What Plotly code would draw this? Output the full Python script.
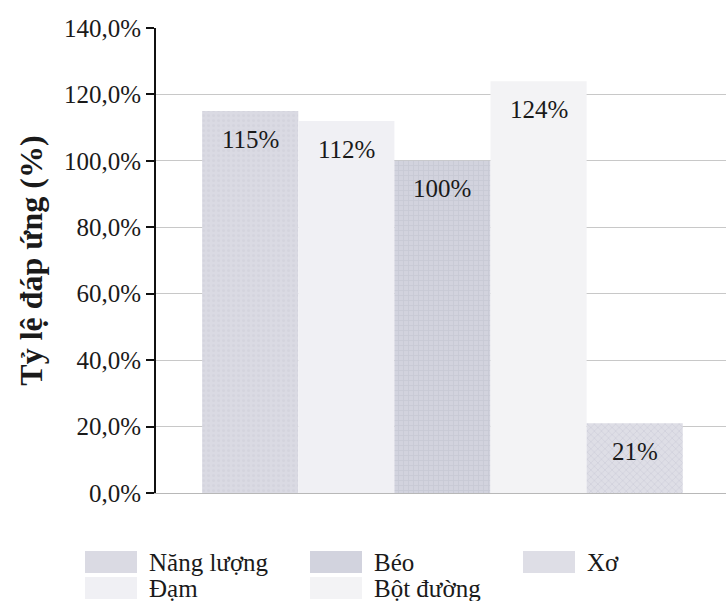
import plotly.graph_objects as go

# ---- data ----
series_names = ["Năng lượng", "Đạm", "Béo", "Bột đường", "Xơ"]
series_values = [1.15, 1.12, 1.00, 1.24, 0.21]
value_labels = ["115%", "112%", "100%", "124%", "21%"]
y_tick_values = [0, 0.2, 0.4, 0.6, 0.8, 1.0, 1.2, 1.4]

# ---- styles ----
fills = ["#dadae3", "#f0f0f4", "#d2d3de", "#f3f3f5", "#dedee6"]
pattern_shapes = [".", "", "+", "", "x"]
pattern_fg = ["#cdcdd8", "#f0f0f4", "#bdbfcc", "#f3f3f5", "#c6c6d2"]
FONT = "'Liberation Serif', 'Times New Roman', 'DejaVu Serif', serif"

W, H = 726, 601
L, R, T, B = 156, 0, 28, 108
plot_w = W - L - R
plot_h = H - T - B

fig = go.Figure()
for i, (name, val) in enumerate(zip(series_names, series_values)):
    fig.add_trace(go.Bar(
        x=[i], y=[val], width=1, name=name, showlegend=False,
        marker=dict(color=fills[i], line=dict(width=0),
                    pattern=dict(shape=pattern_shapes[i], fgcolor=pattern_fg[i],
                                 bgcolor=fills[i], size=5, solidity=0.3)),
        hoverinfo="skip",
    ))
    fig.add_annotation(x=i, y=val, text=value_labels[i], showarrow=False,
                       yanchor="middle", yshift=-28,
                       font=dict(family=FONT, size=25, color="#1a1a1a"))

# manual legend (column-major, 2 rows)
def px_to_paper_x(px):
    return (px - L) / plot_w

def py_to_paper_y(py):
    return (T + plot_h - py) / plot_h

col_px = [85, 310, 523]
row_py = [562, 588]
sw_w, sw_h = 52, 22
for i, name in enumerate(series_names):
    c, r = divmod(i, 2)
    x0 = col_px[c]
    yc = row_py[r]
    fig.add_shape(type="rect", xref="paper", yref="paper",
                  x0=px_to_paper_x(x0), x1=px_to_paper_x(x0 + sw_w),
                  y0=py_to_paper_y(yc + sw_h / 2), y1=py_to_paper_y(yc - sw_h / 2),
                  fillcolor=fills[i], line=dict(width=0), layer="above")
    fig.add_annotation(xref="paper", yref="paper",
                       x=px_to_paper_x(x0 + sw_w + 10), y=py_to_paper_y(yc),
                       xanchor="left", yanchor="middle", showarrow=False,
                       text=name, font=dict(family=FONT, size=25, color="#1a1a1a"))

fig.update_layout(
    width=W, height=H,
    margin=dict(l=L, r=R, t=T, b=B, autoexpand=False),
    paper_bgcolor="white", plot_bgcolor="white",
    barmode="overlay",
    separators=",.",
    showlegend=False,
    font=dict(family=FONT, size=24, color="#1a1a1a"),
    xaxis=dict(range=[-0.98, 4.95], showticklabels=False, ticks="",
               showgrid=False, zeroline=False, showline=True,
               linecolor="#b8b8b8", linewidth=1),
    yaxis=dict(range=[0, 1.4], tickvals=y_tick_values, tickformat=".1%",
               showgrid=True, gridcolor="#c8c8c8", gridwidth=1,
               zeroline=False, showline=True, linecolor="#111111", linewidth=2,
               ticks="outside", ticklen=8, tickwidth=2, tickcolor="#111111",
               tickfont=dict(family=FONT, size=25, color="#1a1a1a"),
               title=dict(text="<b>Tỷ lệ đáp ứng (%)</b>", standoff=12,
                          font=dict(family=FONT, size=32, color="#1a1a1a"))),
)

fig.write_html("out.html")
